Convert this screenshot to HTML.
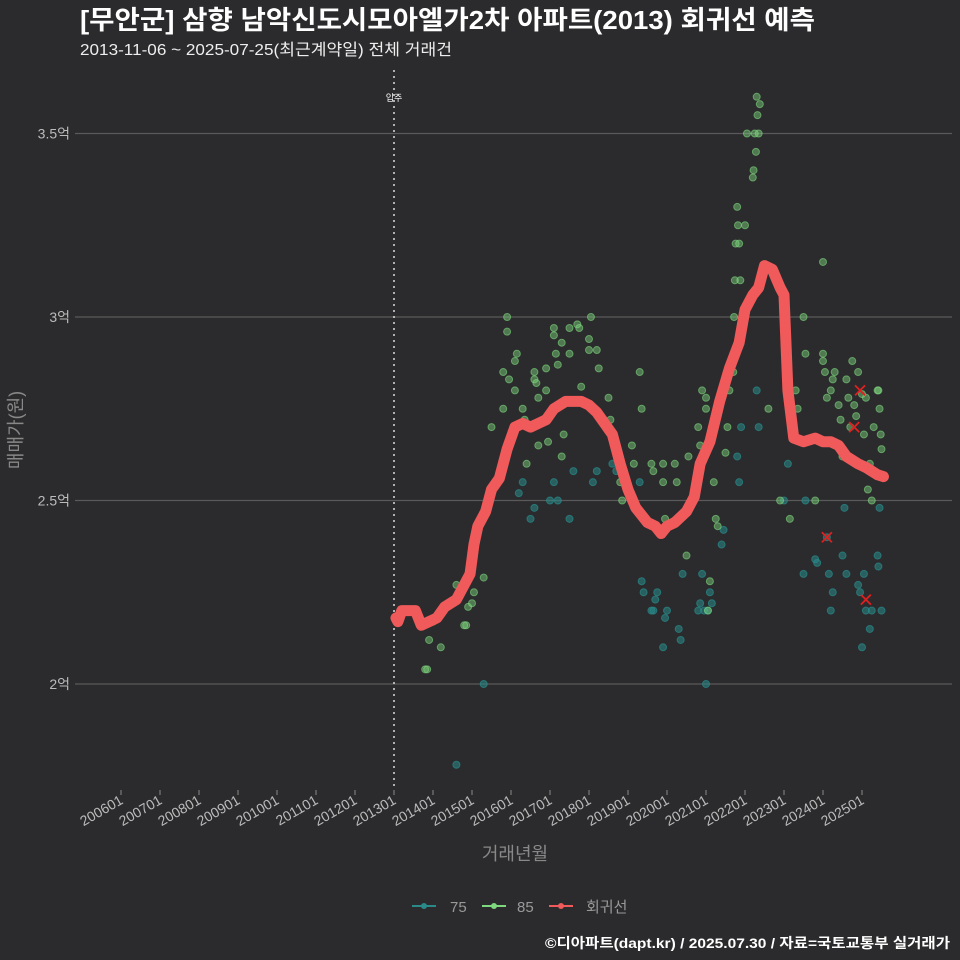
<!DOCTYPE html>
<html><head><meta charset="utf-8"><style>
html,body{margin:0;padding:0;background:#2b2b2d;overflow:hidden;width:960px;height:960px;}
svg{display:block;}
svg text{font-family:"Liberation Sans","Noto Sans CJK KR",sans-serif;}
</style></head><body>
<svg id="c" width="960" height="960" xmlns="http://www.w3.org/2000/svg">
<rect width="960" height="960" fill="#2b2b2d"/>
<text x="80" y="29" font-size="26" font-weight="bold" fill="#ffffff" textLength="735" lengthAdjust="spacingAndGlyphs">[무안군] 삼향 남악신도시모아엘가2차 아파트(2013) 회귀선 예측</text>
<text x="80" y="55" font-size="16" fill="#eeeeee" textLength="372" lengthAdjust="spacingAndGlyphs">2013-11-06 ~ 2025-07-25(최근계약일) 전체 거래건</text>
<g id="grid"></g><g id="xt"></g>
<line x1="394" x2="394" y1="70" y2="790" stroke="#dddddd" stroke-width="1.5" stroke-dasharray="2,4"/>
<text x="394" y="101" font-size="9" fill="#ffffff" text-anchor="middle">입주</text>
<g id="pts"></g><g id="line"></g><g id="xs"></g>
<text x="515" y="860" font-size="18" fill="#888" text-anchor="middle">거래년월</text>
<text transform="translate(22,430) rotate(-90)" font-size="18" fill="#888" text-anchor="middle">매매가(원)</text>
<g>
<g><line x1="412" x2="436" y1="906" y2="906" stroke="#2a8a8a" stroke-width="2"/><circle cx="424" cy="906" r="3" fill="#2a8a8a"/><text x="450" y="912" font-size="15" fill="#999">75</text></g>
<g><line x1="482" x2="506" y1="906" y2="906" stroke="#7ed87e" stroke-width="2"/><circle cx="494" cy="906" r="3" fill="#7ed87e"/><text x="517" y="912" font-size="15" fill="#999">85</text></g>
<g><line x1="549" x2="573" y1="906" y2="906" stroke="#f05a5a" stroke-width="2"/><circle cx="561" cy="906" r="3" fill="#f05a5a"/><text x="586" y="912" font-size="15" fill="#999">회귀선</text></g>
</g>
<text x="950" y="948" font-size="14" font-weight="bold" fill="#ffffff" text-anchor="end" textLength="405" lengthAdjust="spacingAndGlyphs">©디아파트(dapt.kr) / 2025.07.30 / 자료=국토교통부 실거래가</text>
</svg>
<script>
const yTicks=[2,2.5,3,3.5];
const yTickLabels=["2억","2.5억","3억","3.5억"];
const xTickYears=[2006,2007,2008,2009,2010,2011,2012,2013,2014,2015,2016,2017,2018,2019,2020,2021,2022,2023,2024,2025];
const xTickLabels=["200601","200701","200801","200901","201001","201101","201201","201301","201401","201501","201601","201701","201801","201901","202001","202101","202201","202301","202401","202501"];
const s85x=[2013.8,2013.85,2013.9,2014.0,2014.2,2014.6,2014.8,2014.85,2014.9,2015.0,2015.05,2015.3,2015.5,2015.8,2015.8,2015.9,2015.9,2015.95,2016.1,2016.1,2016.15,2016.3,2016.35,2016.4,2016.6,2016.6,2016.65,2016.7,2016.7,2016.9,2016.9,2016.95,2017.1,2017.1,2017.15,2017.2,2017.3,2017.3,2017.35,2017.5,2017.5,2017.7,2017.75,2017.8,2018.0,2018.0,2018.05,2018.2,2018.25,2018.5,2018.55,2018.6,2018.8,2018.85,2019.1,2019.15,2019.3,2019.35,2019.6,2019.65,2019.9,2019.9,2019.95,2020.2,2020.25,2020.5,2020.55,2020.8,2020.85,2020.9,2021.0,2021.0,2021.05,2021.1,2021.2,2021.25,2021.3,2021.5,2021.55,2021.6,2021.7,2021.7,2021.72,2021.74,2021.76,2021.8,2021.82,2021.85,2021.88,2022.0,2022.05,2022.2,2022.22,2022.25,2022.28,2022.3,2022.32,2022.35,2022.38,2022.6,2022.9,2023.1,2023.15,2023.3,2023.35,2023.5,2023.55,2023.8,2024.0,2024.0,2024.05,2024.1,2024.0,2024.2,2024.25,2024.3,2024.4,2024.45,2024.5,2024.6,2024.65,2024.7,2024.75,2024.8,2024.85,2024.9,2025.0,2025.05,2025.1,2025.15,2025.2,2025.25,2025.3,2025.4,2025.42,2025.45,2025.48,2025.5];
const s85y=[2.04,2.04,2.12,2.17,2.10,2.27,2.16,2.16,2.21,2.22,2.25,2.29,2.7,2.75,2.85,3.0,2.96,2.83,2.8,2.88,2.9,2.75,2.72,2.6,2.85,2.83,2.82,2.78,2.65,2.8,2.86,2.66,2.95,2.97,2.9,2.87,2.93,2.62,2.68,2.97,2.9,2.98,2.97,2.81,2.94,2.91,3.0,2.91,2.86,2.78,2.72,2.68,2.55,2.5,2.65,2.6,2.85,2.75,2.6,2.58,2.55,2.6,2.45,2.6,2.55,2.35,2.62,2.7,2.65,2.8,2.75,2.78,2.2,2.28,2.55,2.45,2.43,2.63,2.7,2.8,2.85,2.9,3.0,3.1,3.2,3.3,3.25,3.2,3.1,3.25,3.5,3.38,3.4,3.5,3.45,3.6,3.55,3.5,3.58,2.75,2.5,2.8,2.45,2.8,2.75,3.0,2.9,2.5,2.88,2.9,2.85,2.78,3.15,2.8,2.83,2.85,2.76,2.72,2.62,2.83,2.78,2.7,2.88,2.76,2.73,2.85,2.79,2.68,2.78,2.53,2.6,2.5,2.7,2.8,2.8,2.75,2.68,2.64];
const s75x=[2014.6,2015.3,2016.2,2016.3,2016.5,2016.6,2017.0,2017.1,2017.2,2017.5,2017.6,2018.1,2018.2,2018.6,2018.7,2019.3,2019.35,2019.4,2019.6,2019.65,2019.7,2019.75,2019.9,2019.95,2020.0,2020.3,2020.35,2020.4,2020.8,2020.85,2020.9,2020.95,2021.0,2021.05,2021.1,2021.15,2021.4,2021.45,2021.8,2021.85,2021.9,2022.3,2022.35,2023.0,2023.1,2023.5,2023.55,2023.8,2023.85,2024.1,2024.15,2024.2,2024.25,2024.5,2024.55,2024.6,2024.9,2024.95,2025.0,2025.05,2025.1,2025.2,2025.25,2025.4,2025.42,2025.45,2025.5];
const s75y=[1.78,2.0,2.52,2.55,2.45,2.48,2.5,2.55,2.5,2.45,2.58,2.55,2.58,2.6,2.58,2.55,2.28,2.25,2.2,2.2,2.23,2.25,2.1,2.18,2.2,2.15,2.12,2.3,2.2,2.22,2.3,2.2,2.0,2.2,2.25,2.22,2.38,2.42,2.62,2.55,2.7,2.8,2.7,2.5,2.6,2.3,2.5,2.34,2.33,2.4,2.3,2.2,2.25,2.35,2.48,2.3,2.27,2.25,2.1,2.3,2.2,2.15,2.2,2.35,2.32,2.48,2.2];
const regX=[2013.05,2013.1,2013.2,2013.4,2013.55,2013.7,2013.9,2014.1,2014.3,2014.6,2014.8,2014.95,2015.05,2015.15,2015.35,2015.5,2015.7,2015.9,2016.1,2016.3,2016.5,2016.7,2016.9,2017.1,2017.4,2017.6,2017.8,2018.0,2018.2,2018.4,2018.6,2018.8,2019.0,2019.2,2019.5,2019.7,2019.85,2020.0,2020.2,2020.5,2020.7,2020.85,2021.1,2021.35,2021.6,2021.85,2022.0,2022.2,2022.35,2022.5,2022.7,2022.9,2023.0,2023.1,2023.25,2023.5,2023.8,2024.0,2024.2,2024.4,2024.6,2024.9,2025.1,2025.4,2025.55];
const regY=[2.18,2.17,2.2,2.2,2.2,2.16,2.17,2.18,2.21,2.23,2.27,2.3,2.38,2.43,2.47,2.53,2.56,2.64,2.7,2.71,2.7,2.71,2.72,2.75,2.77,2.77,2.77,2.76,2.74,2.71,2.68,2.6,2.53,2.48,2.44,2.43,2.41,2.43,2.44,2.47,2.51,2.6,2.66,2.77,2.86,2.93,3.02,3.06,3.08,3.14,3.13,3.08,3.06,2.8,2.67,2.66,2.67,2.66,2.66,2.65,2.62,2.6,2.59,2.57,2.565];
const markX=[2024.95,2024.8,2024.1,2025.1];
const markY=[2.8,2.7,2.4,2.23];
const NS="http://www.w3.org/2000/svg";
const X=t=>394+(t-2013)*39, Y=p=>684-(p-2)*367;
function mk(tag,attrs,parent){const e=document.createElementNS(NS,tag);for(const k in attrs)e.setAttribute(k,attrs[k]);parent.appendChild(e);return e;}
const grid=document.getElementById('grid');
yTicks.forEach((v,i)=>{
 const l=mk('line',{x1:75,x2:952,y1:Y(v),y2:Y(v),stroke:'#5a5a5a','stroke-width':1.2},grid);
 
 
 const t=mk('text',{x:70,y:Y(v)+5,'font-size':14,fill:'#bbb','text-anchor':'end'},grid);
 t.textContent=yTickLabels[i];
 
 
});
const xt=document.getElementById('xt');
xTickYears.forEach((v,i)=>{
 const x=X(v);
 const tk=mk('line',{x1:x,x2:x,y1:790,y2:795,stroke:'#888'},xt);
 
 
 const t=mk('text',{transform:`translate(${x+3},${803}) rotate(-30)`,'font-size':14,fill:'#bbb','text-anchor':'end'},xt);
 t.textContent=xTickLabels[i];
 
 
});
const pts=document.getElementById('pts');
s75x.forEach((v,i)=>{const c=mk('circle',{cx:X(v),cy:Y(s75y[i]),r:3.5,fill:'#2a8a8a','fill-opacity':0.55,stroke:'#2a8a8a','stroke-opacity':0.7},pts);
 
 });
s85x.forEach((v,i)=>{const c=mk('circle',{cx:X(v),cy:Y(s85y[i]),r:3.5,fill:'#7ed87e','fill-opacity':0.45,stroke:'#7ed87e','stroke-opacity':0.6},pts);
 
 });
const lg=document.getElementById('line');
const p=mk('polyline',{points:regX.map((v,i)=>X(v)+','+Y(regY[i])).join(' '),fill:'none',stroke:'#f05a5a','stroke-width':11,'stroke-linejoin':'round','stroke-linecap':'round'},lg);


const xs=document.getElementById('xs');
markX.forEach((v,i)=>{const x=X(v),y=Y(markY[i]);
 const g=mk('path',{d:`M${x-5},${y-5}L${x+5},${y+5}M${x-5},${y+5}L${x+5},${y-5}`,stroke:'#e02020','stroke-width':1.8},xs);
 
 });
</script>
</body></html>
